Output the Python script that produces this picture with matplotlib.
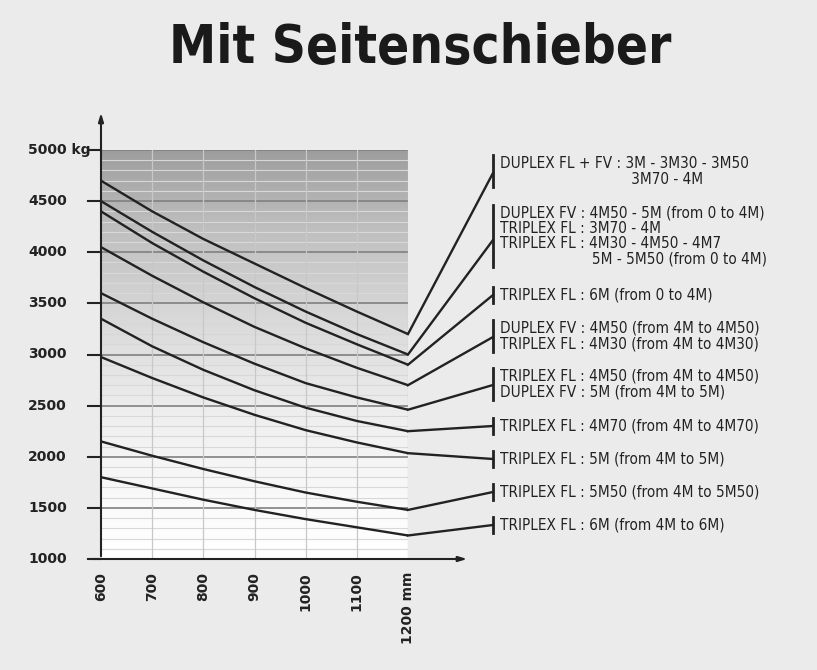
import matplotlib.pyplot as plt
import numpy as np

# loads in kg at each mast height (mm)
heights = [600, 700, 800, 900, 1000, 1100, 1200]
curves = [
    [4700, 4400, 4130, 3890, 3650, 3420, 3200],
    [4500, 4200, 3920, 3660, 3420, 3200, 3000],
    [4400, 4090, 3810, 3550, 3310, 3100, 2900],
    [4050, 3770, 3510, 3270, 3060, 2870, 2700],
    [3600, 3350, 3120, 2910, 2720, 2580, 2460],
    [3350, 3080, 2850, 2650, 2480, 2350, 2250],
    [2975, 2770, 2580, 2410, 2260, 2140, 2035],
    [2150, 2010, 1880, 1760, 1650, 1560, 1480],
    [1800, 1690, 1580, 1480, 1390, 1310, 1230],
]
y_ticks = [1000, 1500, 2000, 2500, 3000, 3500, 4000, 4500, 5000]
y_labels = ["1000", "1500", "2000", "2500", "3000", "3500", "4000", "4500", "5000 kg"]
x_labels = ["600", "700", "800", "900", "1000", "1100", "1200 mm"]

# legend groups: (lines, bracket top px, bracket bottom px, connector target px)
groups = [
    (["DUPLEX FL + FV : 3M - 3M30 - 3M50", "                              3M70 - 4M"], 155, 187, 173),
    (["DUPLEX FV : 4M50 - 5M (from 0 to 4M)", "TRIPLEX FL : 3M70 - 4M",
      "TRIPLEX FL : 4M30 - 4M50 - 4M7", "                     5M - 5M50 (from 0 to 4M)"], 205, 267, 240),
    (["TRIPLEX FL : 6M (from 0 to 4M)"], 287, 303, 295),
    (["DUPLEX FV : 4M50 (from 4M to 4M50)", "TRIPLEX FL : 4M30 (from 4M to 4M30)"], 320, 352, 337),
    (["TRIPLEX FL : 4M50 (from 4M to 4M50)", "DUPLEX FV : 5M (from 4M to 5M)"], 368, 400, 385),
    (["TRIPLEX FL : 4M70 (from 4M to 4M70)"], 418, 434, 426),
    (["TRIPLEX FL : 5M (from 4M to 5M)"], 451, 467, 459),
    (["TRIPLEX FL : 5M50 (from 4M to 5M50)"], 484, 500, 492),
    (["TRIPLEX FL : 6M (from 4M to 6M)"], 517, 533, 525),
]

W, H = 817, 670
X0, X1, Y0, Y1 = 101, 408, 559, 150


def px(x, y):
    return 600 + (x - X0) * 600 / (X1 - X0), 1000 + (Y0 - y) * 4000 / (Y0 - Y1)


fig = plt.figure(figsize=(W / 100, H / 100), dpi=100, facecolor="#ebebeb")
ax = fig.add_axes([X0 / W, (H - Y0) / H, (X1 - X0) / W, (Y0 - Y1) / H])
ax.set_xlim(600, 1200)
ax.set_ylim(1000, 5000)
ax.axis("off")

grad = np.linspace(0, 1, 256).reshape(-1, 1) ** 1.2
ax.imshow(grad, extent=[600, 1200, 1000, 5000], aspect="auto", origin="lower",
          cmap="Greys", vmin=0, vmax=2.1, zorder=0)
for v in range(1000, 5001, 100):
    major = v % 500 == 0
    ax.plot([600, 1200], [v, v], color="#808080" if major else "#d8d8d8",
            lw=1.2 if major else 0.8, zorder=1)
for h in heights[1:]:
    ax.plot([h, h], [1000, 5000], color="#c8c8c8", lw=0.9, zorder=1)

for ys in curves:
    ax.plot(heights, ys, color="#222222", lw=1.7, zorder=3, solid_capstyle="round")

lx = px(493, 0)[0]
for ys, (lines, top, bot, tgt) in zip(curves, groups):
    ax.plot([1200, lx], [ys[-1], px(0, tgt)[1]], color="#222222", lw=1.7, clip_on=False, zorder=3)
    ax.plot([lx, lx], [px(0, top)[1], px(0, bot)[1]], color="#222222", lw=2, clip_on=False)
    n = len(lines)
    step = (bot - top) / n
    for i, t in enumerate(lines):
        ax.text(px(500, 0)[0], px(0, top + step * (i + 0.5))[1], t, fontsize=11,
                fontstretch="condensed", family="DejaVu Sans",
                color="#222222", va="center", ha="left", clip_on=False)

# axes with arrows
ax.annotate("", xy=(600, px(0, 110)[1]), xytext=(600, 1000),
            arrowprops=dict(arrowstyle="-|>,head_width=0.15,head_length=0.5", color="#222222", lw=1.5),
            annotation_clip=False)
ax.annotate("", xy=(px(470, 0)[0], 1000), xytext=(px(88, 0)[0], 1000),
            arrowprops=dict(arrowstyle="-|>,head_width=0.15,head_length=0.5", color="#222222", lw=1.5),
            annotation_clip=False)
for v, lab in zip(y_ticks, y_labels):
    ax.plot([px(88, 0)[0], 600], [v, v], color="#222222", lw=1.5, clip_on=False)
    ax.text(px(28, 0)[0], v, lab, fontsize=10, fontweight="bold", va="center", ha="left", color="#222222")
for h, lab in zip(heights, x_labels):
    ax.text(h, px(0, 572)[1], lab, fontsize=10, fontweight="bold", rotation=90,
            ha="center", va="top", color="#222222")

fig.text(420 / W, 1 - 48 / H, "Mit Seitenschieber", fontsize=38, fontweight="bold",
         fontstretch="condensed", family="DejaVu Sans",
         ha="center", va="center", color="#1a1a1a")

fig.savefig("out.png", dpi=100, facecolor=fig.get_facecolor())
